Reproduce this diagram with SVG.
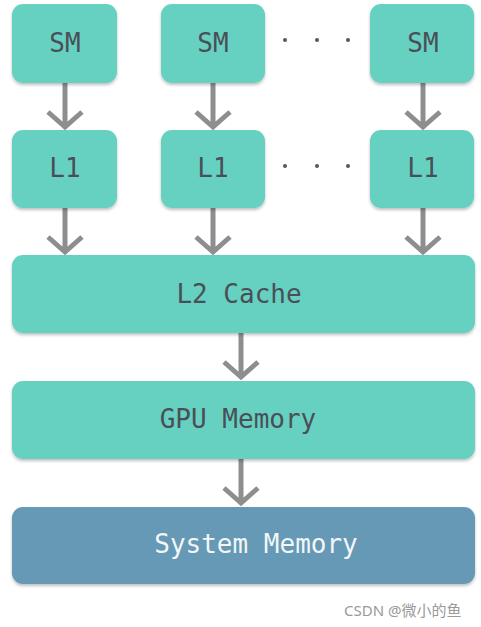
<svg xmlns="http://www.w3.org/2000/svg" width="481" height="627" viewBox="0 0 481 627">
<defs>
<filter id="sh" x="-10%" y="-10%" width="120%" height="130%">
<feDropShadow dx="0" dy="2" stdDeviation="1.5" flood-color="#000" flood-opacity="0.25"/>
</filter>
</defs>
<style>
.box{fill:#66d1c1;filter:url(#sh)}
.sys{fill:#6699b5;filter:url(#sh)}
.t{font-family:"DejaVu Sans Mono",monospace;font-size:26px;fill:#4a4f57;text-anchor:middle}
.tw{font-family:"DejaVu Sans Mono",monospace;font-size:26px;fill:#f2f6f8;text-anchor:middle}
.c{stroke:#8e8e8e;stroke-width:5;fill:none}
.dot{fill:#55585c}
.wm{font-family:"Noto Sans","Noto Sans CJK SC",sans-serif;font-size:15px;fill:#9a9a9a}
</style>
<rect width="481" height="627" fill="#fff"/>
<g id="connectors">
<path class="c" d="M65 83V126M48 112L65 127L82 112"/>
<path class="c" d="M213 83V126M196 112L213 127L230 112"/>
<path class="c" d="M423 83V126M406 112L423 127L440 112"/>
<path class="c" d="M65 208V252M48 237L65 252L82 237"/>
<path class="c" d="M213 208V252M196 237L213 252L230 237"/>
<path class="c" d="M423 208V252M406 237L423 252L440 237"/>
<path class="c" d="M241 333V378M224 362L241 377L258 362"/>
<path class="c" d="M241 459V504M224 488L241 503L258 488"/>
</g>
<g id="sm1"><rect class="box" x="12" y="4" width="105" height="79" rx="11"/><text class="t" x="65" y="52">SM</text></g>
<g id="sm2"><rect class="box" x="161" y="4" width="104" height="79" rx="11"/><text class="t" x="213" y="52">SM</text></g>
<g id="sm3"><rect class="box" x="370" y="4" width="104" height="79" rx="11"/><text class="t" x="423" y="52">SM</text></g>
<g id="dots1"><circle class="dot" cx="285" cy="40" r="2"/><circle class="dot" cx="317" cy="40" r="2"/><circle class="dot" cx="348" cy="40" r="2"/></g>
<g id="l1a"><rect class="box" x="12" y="130" width="105" height="78" rx="11"/><text class="t" x="65" y="177">L1</text></g>
<g id="l1b"><rect class="box" x="161" y="130" width="104" height="78" rx="11"/><text class="t" x="213" y="177">L1</text></g>
<g id="l1c"><rect class="box" x="370" y="130" width="104" height="78" rx="11"/><text class="t" x="423" y="177">L1</text></g>
<g id="dots2"><circle class="dot" cx="285" cy="166" r="2"/><circle class="dot" cx="317" cy="166" r="2"/><circle class="dot" cx="348" cy="166" r="2"/></g>
<g id="l2"><rect class="box" x="12" y="255" width="463" height="78" rx="11"/><text class="t" x="239" y="303">L2 Cache</text></g>
<g id="gpu"><rect class="box" x="12" y="381" width="463" height="78" rx="11"/><text class="t" x="238" y="428">GPU Memory</text></g>
<g id="sys"><rect class="sys" x="12" y="507" width="463" height="77" rx="11"/><text class="tw" x="256" y="553">System Memory</text></g>
<text class="wm" x="344" y="616">CSDN @微小的鱼</text>
</svg>
